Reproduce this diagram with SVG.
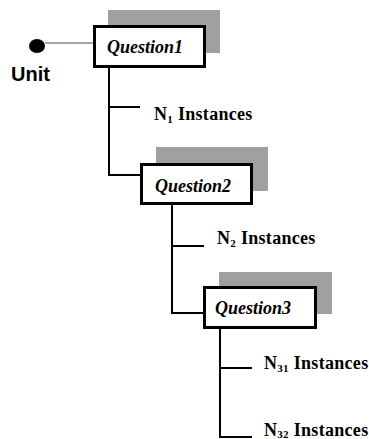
<svg xmlns="http://www.w3.org/2000/svg" width="369" height="439" viewBox="0 0 369 439">
<style>
.shadow{fill:#a0a0a0;}
.box{fill:#fff;stroke:#000;stroke-width:3;}
.q{font-family:"Liberation Serif",serif;font-weight:bold;font-style:italic;font-size:18px;fill:#000;}
.n{font-family:"Liberation Serif",serif;font-weight:bold;font-size:18px;fill:#000;letter-spacing:0.3px;}
.sub{font-size:11px;}
.conn{fill:none;stroke:#000;stroke-width:2;}
.unit{font-family:"Liberation Sans",Arial,sans-serif;font-weight:bold;font-size:20px;fill:#000;}
</style>
<rect width="369" height="439" fill="#fff"/>
<g id="connectors">
<line x1="45" y1="43" x2="94" y2="43" stroke="#888" stroke-width="1.5"/>
<path class="conn" d="M109 67 V175 H141 M109 107 H140"/>
<path class="conn" d="M172 204 V313 H203 M172 246 H204"/>
<path class="conn" d="M220 329 V437 H252 M220 368 H252"/>
</g>
<g id="unit">
<ellipse cx="37" cy="46" rx="8" ry="7" fill="#000"/>
<text class="unit" x="11" y="81">Unit</text>
</g>
<g id="question1">
<rect class="shadow" x="108" y="10" width="112" height="43"/>
<rect class="box" x="94.5" y="26.5" width="110" height="40"/>
<text class="q" x="107" y="53">Question1</text>
</g>
<g id="n1">
<text class="n" x="154" y="120">N<tspan class="sub" dy="3">1</tspan><tspan dy="-3"> Instances</tspan></text>
</g>
<g id="question2">
<rect class="shadow" x="156" y="147" width="112" height="44"/>
<rect class="box" x="141.5" y="164.5" width="110" height="39"/>
<text class="q" x="155" y="192">Question2</text>
</g>
<g id="n2">
<text class="n" x="217" y="244">N<tspan class="sub" dy="3">2</tspan><tspan dy="-3"> Instances</tspan></text>
</g>
<g id="question3">
<rect class="shadow" x="219" y="272" width="113" height="42"/>
<rect class="box" x="204.5" y="287.5" width="111" height="40"/>
<text class="q" x="215" y="314">Question3</text>
</g>
<g id="n31">
<text class="n" x="264" y="369">N<tspan class="sub" dy="3">31</tspan><tspan dy="-3"> Instances</tspan></text>
</g>
<g id="n32">
<text class="n" x="264" y="436">N<tspan class="sub" dy="2">32</tspan><tspan dy="-2"> Instances</tspan></text>
</g>
</svg>
